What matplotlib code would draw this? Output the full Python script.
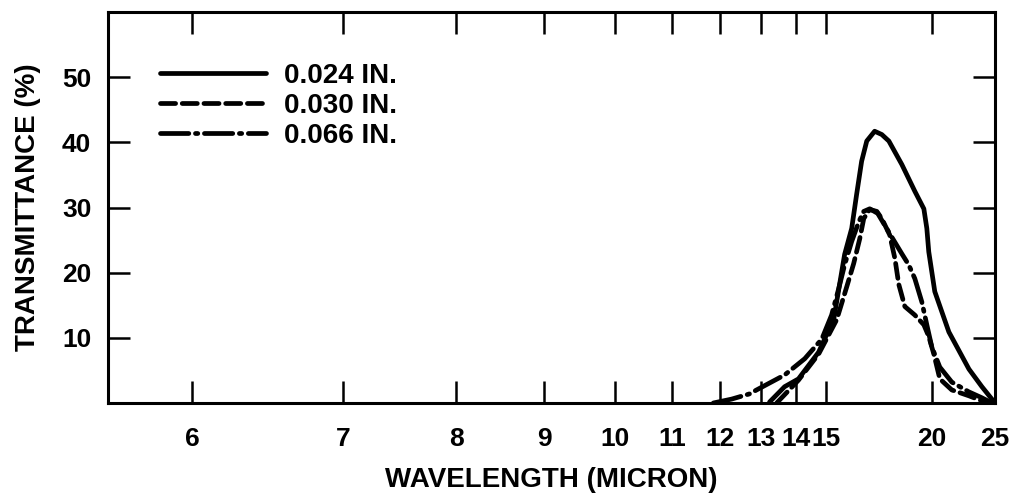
import numpy as np
import matplotlib
matplotlib.use("Agg")
import matplotlib.pyplot as plt

# transmittance (%) vs wavelength (micron)
wl_024 = [13.23, 13.66, 14.08, 14.74, 15.28, 15.69, 15.97, 16.17, 16.38, 16.60,
          16.95, 17.28, 17.62, 18.28, 18.99, 19.52, 19.70, 19.82, 20.20, 21.15,
          22.67, 23.77, 25.0]
tr_024 = [0.15, 2.5, 3.7, 7.8, 12.9, 22.8, 26.8, 32.0, 37.1, 40.2,
          41.7, 41.2, 40.2, 36.6, 32.5, 29.8, 26.8, 23.2, 17.1, 10.9,
          5.2, 2.5, 0.0]

wl_030 = [13.43, 14.08, 14.74, 15.39, 15.77, 16.05, 16.30, 16.47, 16.73, 17.05,
          17.28, 17.66, 17.92, 18.12, 18.44, 18.99, 19.52, 19.82, 20.14, 20.53,
          21.36, 22.67, 23.51, 24.23]
tr_030 = [0.0, 3.5, 7.5, 12.8, 17.8, 21.4, 25.2, 28.3, 29.7, 29.4,
          28.3, 25.8, 22.2, 18.2, 14.8, 13.5, 12.0, 10.2, 7.5, 3.7,
          2.0, 1.1, 0.5, 0.0]

wl_066 = [11.84, 12.26, 12.70, 12.88, 13.66, 14.28, 14.85, 15.20, 15.46, 15.69,
          15.97, 16.26, 16.47, 16.73, 17.09, 17.66, 18.28, 18.65, 18.99, 19.40,
          19.70, 20.01, 20.53, 21.36, 22.67, 23.77, 24.70]
tr_066 = [0.0, 0.6, 1.4, 2.0, 4.3, 6.8, 9.8, 13.5, 17.5, 21.2,
          24.8, 27.8, 29.4, 29.8, 29.1, 26.0, 22.9, 21.2, 19.1, 15.5,
          12.0, 8.6, 5.5, 3.2, 1.7, 0.8, 0.0]

labels = ["0.024 IN.", "0.030 IN.", "0.066 IN."]
xticks = [6, 7, 8, 9, 10, 11, 12, 13, 14, 15, 20, 25]
yticks = [10, 20, 30, 40, 50]

plt.rcParams['font.family'] = ['Liberation Sans', 'DejaVu Sans']
plt.rcParams['font.weight'] = 'bold'

fig = plt.figure(figsize=(10.15, 5.0), dpi=100)
ax = fig.add_axes([0.1064, 0.194, 0.8739, 0.782])

# wavenumber-linear axis (spectrometer chart)
def fwd(x):
    with np.errstate(divide='ignore', invalid='ignore'):
        return -1.0 / np.asarray(x, dtype=float)

def inv(y):
    with np.errstate(divide='ignore', invalid='ignore'):
        return -1.0 / np.asarray(y, dtype=float)

ax.set_xscale('function', functions=(fwd, inv))

lw = 3.4
ax.plot(wl_024, tr_024, color='black', lw=lw, solid_capstyle='round',
        solid_joinstyle='round', label=labels[0])
ax.plot(wl_030, tr_030, color='black', lw=lw, linestyle=(0, (3.2, 1.4)),
        dash_capstyle='round', label=labels[1])
ax.plot(wl_066, tr_066, color='black', lw=lw, linestyle=(0, (6, 1.4, 0.5, 1.4)),
        dash_capstyle='round', label=labels[2])

ax.set_xlim(10000 / 1800, 25)
ax.set_ylim(0, 60)

ax.set_xticks(xticks)
ax.set_xticklabels([str(t) for t in xticks])
ax.xaxis.set_minor_locator(matplotlib.ticker.NullLocator())
ax.set_yticks(yticks)

for s in ax.spines.values():
    s.set_linewidth(2.2)

fs = 19
ax.tick_params(axis='x', which='major', direction='in', top=True, bottom=True,
               length=16, width=1.8, pad=17, labelsize=fs)
ax.tick_params(axis='y', which='major', direction='in', left=True, right=True,
               length=16, width=1.8, pad=12, labelsize=fs)

ax.set_xlabel("WAVELENGTH (MICRON)", fontsize=20, fontweight='bold', labelpad=12)
ax.set_ylabel("TRANSMITTANCE (%)", fontsize=20, fontweight='bold', labelpad=15)

ax.legend(loc='upper left', bbox_to_anchor=(0.0586, 0.87), frameon=False,
          handlelength=3.8, handletextpad=0.65, labelspacing=0.15,
          fontsize=20, borderaxespad=0, borderpad=0)

fig.savefig("out.png", dpi=100)
